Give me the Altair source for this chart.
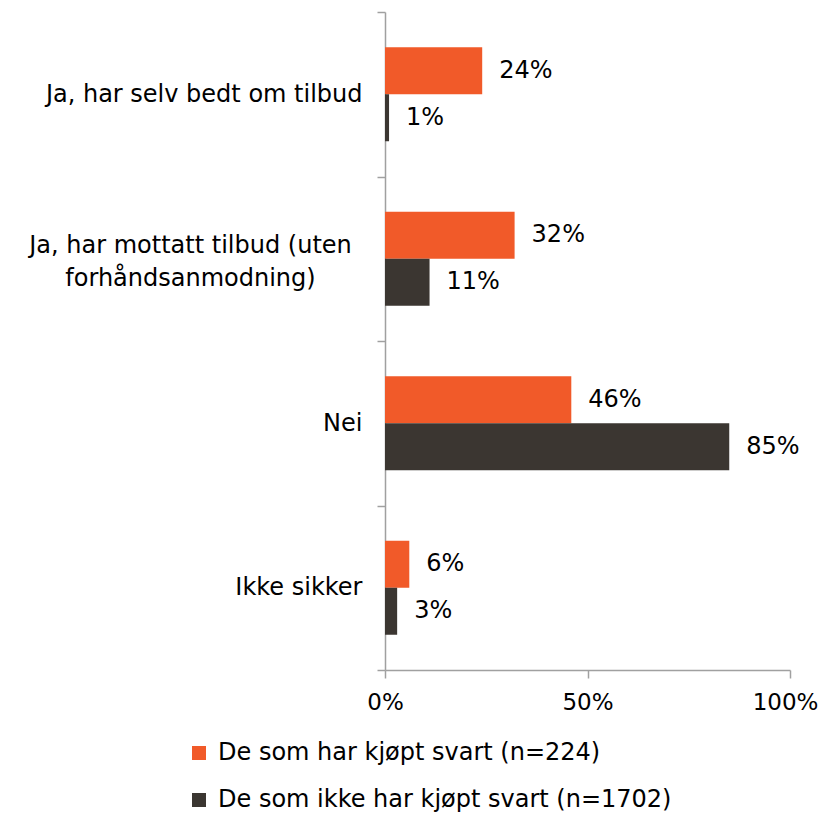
import altair as alt
import pandas as pd

categories = [
    "Ja, har selv bedt om tilbud",
    "Ja, har mottatt tilbud (uten|forhåndsanmodning)",
    "Nei",
    "Ikke sikker",
]
series = ["De som har kjøpt svart (n=224)", "De som ikke har kjøpt svart (n=1702)"]
values_bought = [24, 32, 46, 6]
values_not_bought = [1, 11, 85, 3]
colors = ["#F15A29", "#3B3631"]
x_ticks = [0, 50, 100]

rows = []
for c, v in zip(categories, values_bought):
    rows.append({"category": c, "series": series[0], "value": v})
for c, v in zip(categories, values_not_bought):
    rows.append({"category": c, "series": series[1], "value": v})
df = pd.DataFrame(rows)

FONT = "DejaVu Sans"
FS = 24
AXIS_COLOR = "#A0A0A0"
multi = categories[1]
is_multi = f"datum.value == '{multi}'"

y_enc = alt.Y(
    "category:N",
    sort=categories,
    scale=alt.Scale(paddingInner=0, paddingOuter=0),
    axis=alt.Axis(
        title=None,
        tickBand="extent",
        tickSize=8,
        tickWidth=1.5,
        tickColor=AXIS_COLOR,
        domainColor=AXIS_COLOR,
        domainWidth=1.5,
        labelFont=FONT,
        labelFontSize=FS,
        labelColor="#000000",
        labelLimit=400,
        labelLineHeight=33,
        labelExpr="split(datum.label, '|')",
        labelAlign={"condition": {"test": is_multi, "value": "center"}, "value": "right"},
        labelPadding={"condition": {"test": is_multi, "value": 187}, "value": 15},
        labelOffset={"condition": {"test": is_multi, "value": -13}, "value": 0},
    ),
)
yoff = alt.YOffset("series:N", sort=series, scale=alt.Scale(paddingInner=0, paddingOuter=0.75))
x_enc = alt.X(
    "value:Q",
    scale=alt.Scale(domain=[0, 100]),
    axis=alt.Axis(
        title=None,
        values=x_ticks,
        labelExpr="datum.value + '%'",
        grid=False,
        tickSize=8,
        tickWidth=1.5,
        tickColor=AXIS_COLOR,
        domainColor=AXIS_COLOR,
        domainWidth=1.5,
        labelFont=FONT,
        labelFontSize=23,
        labelColor="#000000",
        labelPadding=13,
        labelFlush=False,
        labelOffset={"condition": {"test": "datum.value == 100", "value": -5}, "value": 0},
    ),
)

base = alt.Chart(df)
bars = base.mark_bar(size=47).encode(
    y=y_enc,
    yOffset=yoff,
    x=x_enc,
    color=alt.Color(
        "series:N",
        sort=series,
        scale=alt.Scale(domain=series, range=colors),
        legend=alt.Legend(
            title=None,
            orient="none",
            legendX=-198,
            legendY=729,
            direction="vertical",
            symbolType="square",
            symbolSize=196,
            symbolStrokeWidth=0,
            labelFont=FONT,
            labelFontSize=FS,
            labelColor="#000000",
            labelLimit=600,
            labelOffset=7,
            rowPadding=23,
        ),
    ),
)
labels = base.mark_text(align="left", baseline="middle", dx=17, font=FONT, fontSize=FS, color="#000000").encode(
    y=alt.Y("category:N", sort=categories),
    yOffset=alt.YOffset("series:N", sort=series),
    x="value:Q",
    text="label:N",
).transform_calculate(label="datum.value + '%'")

chart = (
    alt.layer(bars, labels)
    .properties(width=405, height=658, padding={"left": 377, "top": 4, "right": 29, "bottom": 143}, autosize=alt.AutoSizeParams(type="none"))
    .configure_view(stroke=None)
)
chart.save("out.html", embed_options={"renderer": "svg", "actions": False})
